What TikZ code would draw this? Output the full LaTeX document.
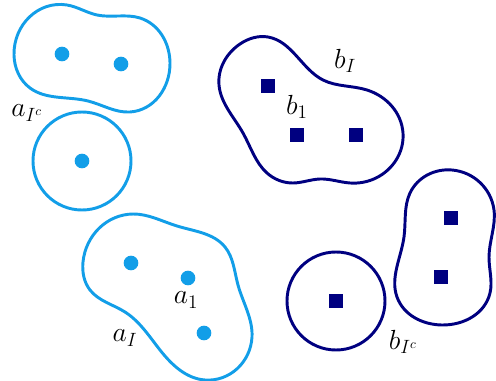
\documentclass[tikz,border=0pt]{standalone}
\usetikzlibrary{positioning,hobby}
\definecolor{skyblue}{RGB}{18,158,232}
\definecolor{deepnavy}{RGB}{0,0,128}
\begin{document}
\begin{tikzpicture}[x=0.75pt,y=-0.75pt,
  blueline/.style={draw=skyblue, line width=2.2pt},
  navyline/.style={draw=deepnavy, line width=2.2pt},
  dot/.style={circle, fill=skyblue, inner sep=0pt, minimum size=11pt},
  sq/.style={rectangle, fill=deepnavy, inner sep=0pt, minimum size=11pt},
  lbl/.style={font=\fontsize{20}{24}\selectfont, inner sep=0pt},
  use Hobby shortcut
]
  \useasboundingbox (0,0) rectangle (496,381);
  % blue sets
  \draw[blueline, closed] (14,55) .. (67,5) .. (97,15) .. (140,18)
    .. (170,63) .. (130,112) .. (88,101) .. (30,88);
  \draw[blueline] (82,161) circle (49);
  \draw[blueline, closed] (83,262) .. (133,214) .. (177,226) .. (225,247)
    .. (238,285) .. (252,337) .. (205,380) .. (160,350) .. (125,312)
    .. (90,290);
  \foreach \x/\y in {62/54, 121/64, 82/161, 131/263, 188/278, 204/333}
    \node[dot] at (\x,\y) {};
  % navy sets
  \draw[navyline, closed] (268,37) .. (323,80) .. (367,90) .. (403,133)
    .. (376,178) .. (350,183) .. (320,179) .. (293,183) .. (267,173)
    .. (243,133) .. (219,85) .. (240,44);
  \draw[navyline] (336,301) circle (49);
  \draw[navyline, closed] (452,170) .. (494,210) .. (489,257) .. (490,293)
    .. (442,325) .. (397,297) .. (404,237) .. (410,193);
  \foreach \x/\y in {268/86, 297/135, 356/135, 336/301, 451/218, 441/277}
    \node[sq] at (\x,\y) {};
  % labels
  \node[lbl] (aIc) at (27,113) {$a_{I^c}$};
  \node[lbl] (aone) at (186,300) {$a_1$};
  \node[lbl] (aI) at (125,338) {$a_I$};
  \node[lbl] (bI) at (345,61) {$b_I$};
  \node[lbl] (bone) at (297,107) {$b_1$};
  \node[lbl] (bIc) at (403,342) {$b_{I^c}$};
\end{tikzpicture}
\end{document}
